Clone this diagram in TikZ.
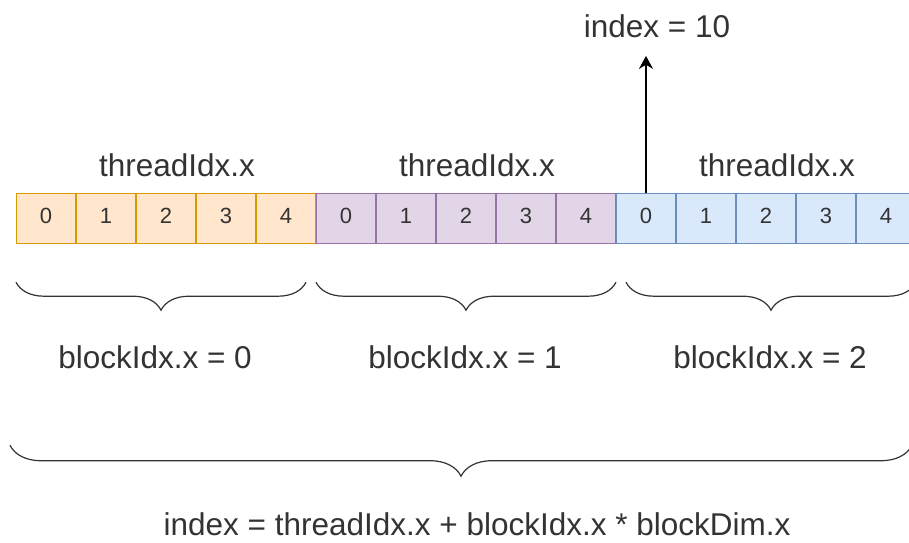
\documentclass[tikz,border=0pt]{standalone}
\usepackage{fontspec}
\setmainfont{Liberation Sans}
\usepackage{color}
\definecolor{myorangefill}{RGB}{255,230,204}
\definecolor{myorangeline}{RGB}{215,155,0}
\definecolor{mypurplefill}{RGB}{225,213,231}
\definecolor{mypurpleline}{RGB}{150,115,166}
\definecolor{mybluefill}{RGB}{218,232,252}
\definecolor{myblueline}{RGB}{108,142,191}
\definecolor{mytext}{RGB}{51,51,51}
\usepackage{tikz}
\usetikzlibrary{shapes.multipart,positioning,arrows.meta,decorations.pathreplacing}

\begin{document}
\begin{tikzpicture}[
  x=1pt, y=-1pt,
  line width=1.2pt,
  myrect/.style={
    draw,
    rectangle split,
    rectangle split horizontal,
    rectangle split parts=5,
    text width=58.8pt,
    inner xsep=0pt,
    inner ysep=12pt,
    text centered,
    font=\fontsize{22}{26}\selectfont,
    text=mytext
    },
  mylabel/.style={font=\fontsize{31.5}{37}\selectfont, text=mytext, inner sep=0pt},
  mybrace/.style={draw=mytext, decorate, decoration={brace, mirror, amplitude=#1}}
]
\useasboundingbox (0,0) rectangle (909,542);

\node[myrect, draw=myorangeline, fill=myorangefill, anchor=north west] at (16,193)
  (blk0)
  {
  					\strut 0
  \nodepart{two}	\strut 1
  \nodepart{three}	\strut 2
  \nodepart{four}	\strut 3
  \nodepart{five}	\strut 4
  };

\node[myrect, draw=mypurpleline, fill=mypurplefill] [right=0pt of blk0]
  (blk1)
  {
  					\strut 0
  \nodepart{two}	\strut 1
  \nodepart{three}	\strut 2
  \nodepart{four}	\strut 3
  \nodepart{five}	\strut 4
  };

\node[myrect, draw=myblueline, fill=mybluefill] [right=0pt of blk1]
  (blk2)
  {
  					\strut 0
  \nodepart{two}	\strut 1
  \nodepart{three}	\strut 2
  \nodepart{four}	\strut 3
  \nodepart{five}	\strut 4
  };

\node[mylabel, above=16pt of blk0, xshift=11pt] (tid0) {threadIdx.x};
\node[mylabel, above=16pt of blk1, xshift=11pt] (tid1) {threadIdx.x};
\node[mylabel, above=16pt of blk2, xshift=11pt] (tid2) {threadIdx.x};

\node[mylabel, anchor=base] (idx) at (657,37) {index = 10};
\draw[-{Stealth[length=13pt,width=14pt]}, line width=1.5pt, black] (blk2.one north) -- ([yshift=-18pt]blk2.one north |- idx.south);

\draw[mybrace=28pt] ([yshift=-38pt]blk0.south west) -- ([yshift=-38pt, xshift=-10pt]blk0.south east);
\draw[mybrace=28pt] ([yshift=-38pt]blk1.south west) -- ([yshift=-38pt]blk1.south east);
\draw[mybrace=28pt] ([yshift=-38pt, xshift=10pt]blk2.south west) -- ([yshift=-38pt]blk2.south east);

\node[mylabel] (bid0) at (155,357) {blockIdx.x = 0};
\node[mylabel] (bid1) at (465,357) {blockIdx.x = 1};
\node[mylabel] (bid2) at (770,357) {blockIdx.x = 2};

\draw[mybrace=31pt] ([yshift=-201pt, xshift=-6pt]blk0.south west) -- ([yshift=-201pt, xshift=-4pt]blk2.south east);

\node[mylabel] (formula) at (477,524) {index = threadIdx.x + blockIdx.x * blockDim.x};

\end{tikzpicture}
\end{document}
